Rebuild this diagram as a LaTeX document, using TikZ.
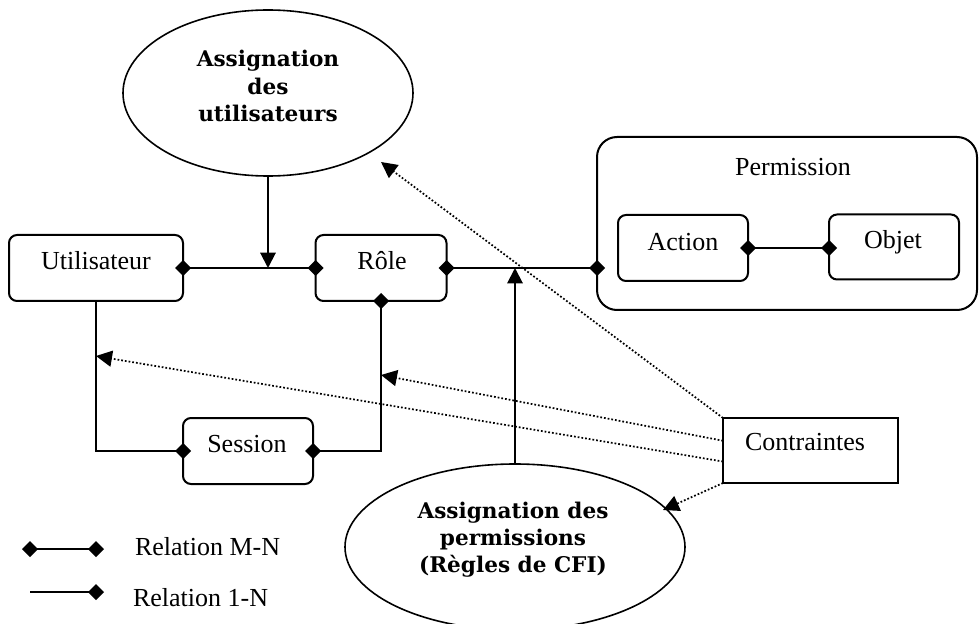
\documentclass[tikz,border=0pt]{standalone}
\usepackage{fontspec}
\setmainfont{Liberation Serif}
\newfontfamily\ellfont{DejaVu Serif}
\usetikzlibrary{arrows.meta,shapes.geometric,calc}
\begin{document}
\begin{tikzpicture}[x=0.75pt,y=-0.75pt,
  every node/.style={inner sep=0pt,outer sep=0pt},
  entity/.style={draw,line width=1.5pt,rounded corners=6pt,minimum height=49.5pt},
  plainbox/.style={draw,line width=1.5pt},
  oval/.style={draw,ellipse,line width=1.2pt},
  lbl/.style={anchor=base,font=\fontsize{19.5pt}{23pt}\selectfont},
  ovaltext/.style={align=center,font=\ellfont\bfseries\fontsize{16.2pt}{20.3pt}\selectfont},
  link/.style={line width=1.5pt},
  arr/.style={link,-{Triangle[length=11.5pt,width=11.5pt]}},
  mn/.style={link,{Diamond[length=12pt,width=12pt]}-{Diamond[length=12pt,width=12pt]},
    shorten <=-6pt,shorten >=-6pt},
  onen/.style={link,-{Diamond[length=12pt,width=12pt]},shorten >=-6pt},
  dotarr/.style={line width=1.3pt,dash pattern=on 1.3pt off 1.5pt,
    -{Triangle[length=12pt,width=12pt]}}
]
\path[use as bounding box] (0,0) rectangle (979,624);

% assignment ellipses
\node[oval,minimum width=217.5pt,minimum height=124.5pt] (ellU) at (268,93) {};
\node[ovaltext] (ellUt) at (268,86) {Assignation\\des\\utilisateurs};
\node[oval,minimum width=255pt,minimum height=124.5pt] (ellP) at (515,547) {};
\node[ovaltext] (ellPt) at (513,540) {Assignation des\\permissions\\(Règles de CFI)};

% entities
\node[entity,minimum width=130.5pt] (U) at (96,268) {};
\node[lbl] (Ut) at (96,270) {Utilisateur};
\node[entity,minimum width=98.25pt] (R) at (381,268) {};
\node[lbl] (Rt) at (382,270) {Rôle};
\node[entity,minimum width=97.5pt] (S) at (248,451) {};
\node[lbl] (St) at (247,452) {Session};

\node[draw,line width=1.5pt,rounded corners=15pt,minimum width=285pt,minimum height=129.75pt] (P) at (787,223.5) {};
\node[lbl] (Pt) at (793,176) {Permission};
\node[entity,minimum width=97.5pt] (A) at (683,248) {};
\node[lbl] (At) at (683,251) {Action};
\node[entity,minimum width=97.5pt,minimum height=48.75pt] (O) at (894,247) {};
\node[lbl] (Ot) at (893,248) {Objet};

\node[plainbox,minimum width=131.25pt,minimum height=48.75pt] (C) at (810.5,450.5) {};
\node[lbl] (Ct) at (805,450) {Contraintes};

% relations
\draw[mn] (U.east) -- (R.west);
\draw[mn] (R.east) -- (R.east -| P.west);
\draw[mn] (A.east) -- (A.east -| O.west);
\draw[onen] (U.south) |- (S.west);
\draw[mn] (R.south) |- (S.east);

\coordinate (jU) at (ellU.south |- U.east);
\draw[arr] (ellU.south) -- (jU);
\coordinate (jP) at (ellP.north |- R.east);
\draw[arr] (ellP.north) -- (jP);

% constraint links
\coordinate (tE) at (381,162);
\coordinate (tR) at (381,375);
\coordinate (tU) at (96,356);
\coordinate (tP) at (663,510);
\draw[dotarr] (C.north west) -- (tE);
\draw[dotarr] ($(C.north west)!0.35!(C.south west)$) -- (tR);
\draw[dotarr] ($(C.north west)!0.67!(C.south west)$) -- (tU);
\draw[dotarr] (C.south west) -- (tP);

% legend
\coordinate (m1) at (30,549);
\coordinate (m2) at (96,549);
\draw[mn] (m1) -- (m2);
\node[lbl,anchor=base west] (mt) at (135,555) {Relation M-N};
\coordinate (o1) at (30,592);
\coordinate (o2) at (96,592);
\draw[onen] (o1) -- (o2);
\node[lbl,anchor=base west] (ot) at (133,606) {Relation 1-N};
\end{tikzpicture}
\end{document}
